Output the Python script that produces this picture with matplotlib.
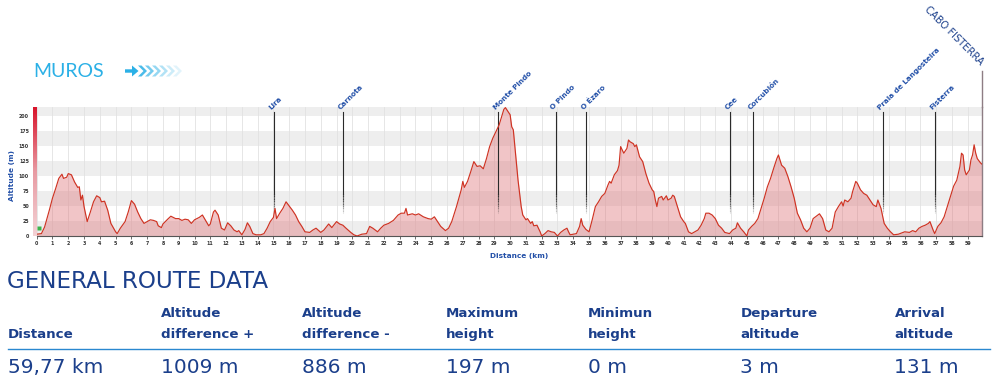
import matplotlib
matplotlib.use("Agg")
import matplotlib.pyplot as plt
import numpy as np
from matplotlib.patches import Polygon
from matplotlib.colors import LinearSegmentedColormap

# ---------------- data ----------------
km = [0, 0.3, 0.5, 0.8, 1.0, 1.2, 1.4, 1.6, 1.7, 1.9,
      2.0, 2.2, 2.4, 2.6, 2.7, 2.8, 2.9, 3.0, 3.2, 3.4,
      3.6, 3.8, 4.0, 4.1, 4.3, 4.5, 4.7, 5.0, 5.1, 5.3,
      5.6, 5.8, 6.0, 6.2, 6.4, 6.6, 6.8, 7.0, 7.2, 7.4,
      7.6, 7.7, 7.9, 8.0, 8.3, 8.5, 8.8, 9.0, 9.2, 9.4,
      9.6, 9.8, 10.0, 10.3, 10.5, 10.7, 10.9, 11.0, 11.2, 11.3,
      11.5, 11.7, 11.9, 12.1, 12.3, 12.5, 12.7, 12.8, 13.0, 13.2,
      13.35, 13.5, 13.7, 13.9, 14.2, 14.4, 14.6, 14.8,
      15.0, 15.1, 15.2, 15.4, 15.6, 15.8, 16.0, 16.2, 16.4, 16.6,
      16.8, 17.0, 17.3, 17.5, 17.7, 18.0, 18.2, 18.5, 18.7, 19.0,
      19.2, 19.4, 19.6, 19.9, 20.1, 20.3, 20.6, 20.9, 21.1, 21.3,
      21.6, 21.8, 22.0, 22.3, 22.6, 22.9, 23.1, 23.3, 23.4, 23.5,
      23.8, 24.0, 24.2, 24.5, 24.8, 25.0, 25.2, 25.4, 25.6, 25.9,
      26.1, 26.3, 26.6, 26.9, 27.0, 27.1, 27.3, 27.5, 27.7, 27.9,
      28.1, 28.3, 28.5, 28.7, 28.9, 29.1, 29.3, 29.5, 29.6, 29.7,
      29.8, 29.9,
      30.0, 30.1, 30.2, 30.3, 30.5, 30.7, 30.8, 31.0, 31.1, 31.3,
      31.4, 31.5, 31.7, 31.9, 32.0, 32.2, 32.4, 32.6, 32.8, 33.0,
      33.2, 33.4, 33.6, 33.7, 33.8, 34.0, 34.2, 34.4, 34.5, 34.6,
      34.8, 35.0, 35.2, 35.4, 35.6, 35.8, 36.0, 36.2, 36.3, 36.4,
      36.6, 36.8, 36.9, 37.0, 37.2, 37.4, 37.5, 37.6, 37.8, 37.9,
      38.0, 38.2, 38.4, 38.6, 38.8, 39.0, 39.1, 39.2, 39.3, 39.4,
      39.6, 39.7, 39.9, 40.0, 40.2, 40.3, 40.4, 40.6, 40.8, 41.0,
      41.1, 41.3, 41.5, 41.7, 41.9, 42.1, 42.3, 42.4, 42.6, 42.8,
      43.0, 43.2, 43.4, 43.6, 43.9, 44.1, 44.3, 44.4, 44.6, 44.8,
      45.0,
      45.1, 45.3, 45.5, 45.7, 45.9, 46.1, 46.3, 46.5, 46.7, 46.9,
      47.0, 47.2, 47.4, 47.6, 47.8, 48.0, 48.2, 48.4, 48.6, 48.8,
      49.0, 49.2, 49.4, 49.6, 49.8, 50.0, 50.2, 50.4, 50.6, 50.8,
      51.0, 51.1, 51.2, 51.4, 51.6, 51.7, 51.9, 52.0, 52.2, 52.4,
      52.6, 52.8, 53.0, 53.2, 53.3, 53.5, 53.7, 53.9, 54.1, 54.3,
      54.6, 55.0, 55.3, 55.5, 55.7, 55.9, 56.1, 56.3, 56.5, 56.6,
      56.8, 56.9, 57.1, 57.3, 57.5, 57.7, 57.9, 58.1, 58.3, 58.5,
      58.6, 58.7, 58.8, 58.9, 59.1, 59.2, 59.3, 59.4, 59.5, 59.6,
      59.8, 59.88]

altitude = [3, 4, 15, 43, 63, 79, 96, 103, 96, 98,
            104, 102, 90, 81, 82, 60, 68, 49, 24, 40,
            57, 67, 64, 57, 58, 43, 21, 7, 4, 13,
            24, 40, 59, 53, 40, 29, 21, 24, 27, 26,
            24, 17, 14, 20, 28, 33, 29, 29, 26, 28,
            27, 21, 27, 31, 35, 26, 17, 20, 40, 43,
            35, 13, 10, 22, 17, 10, 7, 9, 2, 11,
            22, 16, 4, 2, 2, 4, 13, 24,
            31, 46, 29, 38, 46, 57, 50, 43, 35, 24,
            16, 7, 6, 10, 13, 6, 10, 20, 14, 24,
            20, 18, 13, 6, 2, 0, 3, 4, 16, 13,
            7, 13, 18, 21, 26, 35, 38, 38, 46, 35,
            37, 35, 37, 32, 29, 28, 32, 24, 16, 9,
            13, 24, 49, 77, 91, 81, 91, 107, 124, 116,
            117, 112, 129, 149, 163, 174, 185, 202, 211, 214,
            210, 206,
            202, 182, 177, 149, 93, 49, 35, 27, 29, 21,
            24, 17, 18, 7, 0, 4, 9, 7, 6, 0,
            6, 10, 13, 7, 2, 3, 4, 16, 29, 18,
            11, 7, 27, 49, 57, 66, 71, 85, 91, 88,
            102, 109, 118, 149, 138, 146, 160, 157, 154, 149,
            152, 132, 124, 104, 88, 77, 74, 60, 49, 63,
            66, 60, 67, 60, 63, 68, 66, 49, 32, 24,
            21, 7, 4, 7, 10, 18, 29, 38, 38, 35,
            29, 18, 13, 6, 4, 10, 13, 22, 13, 7,
            0,
            10, 16, 21, 29, 46, 63, 82, 96, 113, 129,
            135, 118, 113, 99, 82, 63, 38, 27, 13, 7,
            13, 29, 33, 37, 29, 10, 7, 13, 40, 49,
            57, 50, 60, 57, 63, 74, 91, 88, 77, 71,
            68, 60, 52, 49, 60, 46, 21, 13, 7, 2,
            3, 7, 6, 9, 7, 13, 16, 18, 21, 24,
            10, 4, 16, 22, 32, 49, 66, 83, 93, 116,
            138, 135, 110, 102, 110, 127, 135, 152, 138, 129,
            122, 120]

waypoint_names = ["Lira", "Carnota", "Monte Pindo", "O Pindo", "O Ézaro",
                  "Cee", "Corcubión", "Praia de Langosteira", "Fisterra"]
waypoint_km = [15.05, 19.43, 29.25, 32.9, 34.83, 43.95, 45.4, 53.6, 56.9]

start_name = "MUROS"
end_name = "CABO FISTERRA"
end_km = 59.88

y_ticks = [0, 25, 50, 75, 100, 125, 150, 175, 200]
x_ticks = list(range(0, 60))

stat_headers = [("", "Distance"), ("Altitude", "difference +"), ("Altitude", "difference -"),
                ("Maximum", "height"), ("Minimun", "height"), ("Departure", "altitude"),
                ("Arrival", "altitude")]
stat_values = ["59,77 km", "1009 m", "886 m", "197 m", "0 m", "3 m", "131 m"]

assert len(km) == len(altitude)

# ---------------- layout ----------------
W, H = 992, 384
fig = plt.figure(figsize=(W / 100, H / 100), dpi=100)
fig.patch.set_facecolor("white")

def fx(px):
    return px / W

def fy(py):
    return 1 - py / H

DARK_BLUE = "#1b3f8b"
MID_BLUE = "#2350a8"
LIGHT_BLUE = "#2bb0e6"

ax_l, ax_r, ax_t, ax_b = 36.7, 981.7, 106.7, 236.0
ax = fig.add_axes([fx(ax_l), fy(ax_b), fx(ax_r - ax_l), (ax_b - ax_t) / H])
ax.set_xlim(0, end_km)
ax.set_ylim(0, 215.5)

for lo, hi in [(0, 25), (50, 75), (100, 125), (150, 175), (200, 215.5)]:
    ax.axhspan(lo, hi, color="#eeeeee", lw=0, zorder=0)
for k in x_ticks:
    ax.axvline(k, color="#e2e2e2", lw=0.6, zorder=0.5)

ax.fill_between(km, altitude, 0, color="#de6f74", alpha=0.40, lw=0, zorder=1)
ax.plot(km, altitude, color="#cf3323", lw=0.85, zorder=4)

# start marker
ax.plot([0.12], [13], marker="s", ms=3.2, color="#3cb44b", mec="none", zorder=5, clip_on=False)

# waypoints
for name, k in zip(waypoint_names, waypoint_km):
    ax.plot([k, k], [207, 70], color="#2a2a2a", lw=0.8, zorder=3)
    n = 8
    ys = np.linspace(70, 38, n + 1)
    for i in range(n):
        ax.plot([k, k], [ys[i], ys[i + 1]], color="#2a2a2a", lw=0.8,
                alpha=0.8 * (1 - i / n), zorder=3)
    ax.text(k - 0.12, 209, name, rotation=45, rotation_mode="anchor",
            ha="left", va="bottom", fontsize=5.2, color=MID_BLUE, fontweight="bold",
            zorder=6, clip_on=False)

# axes styling
for s in ["top", "left"]:
    ax.spines[s].set_visible(False)
ax.spines["right"].set_color("#8e7d84")
ax.spines["right"].set_linewidth(1.0)
ax.spines["bottom"].set_color("#555555")
ax.spines["bottom"].set_linewidth(0.8)
ax.set_xticks(x_ticks)
ax.set_xticklabels([str(t) for t in x_ticks], fontsize=3.4, fontweight="bold")
ax.set_yticks(y_ticks)
ax.set_yticklabels([str(t) for t in y_ticks], fontsize=3.4, fontweight="bold")
ax.tick_params(axis="x", length=2, width=0.5, pad=1.5, colors="#333333")
ax.tick_params(axis="y", length=0, pad=5.5, colors="#333333")

# red gradient bar on the left
bar = fig.add_axes([fx(32.6), fy(ax_b), fx(3.8), (ax_b - ax_t) / H])
cmap = LinearSegmentedColormap.from_list("rb", ["#f3d2d5", "#e89aa2", "#d8132a"])
bar.imshow(np.linspace(0, 1, 100)[::-1].reshape(-1, 1), aspect="auto", cmap=cmap,
           extent=[0, 1, 0, 1])
bar.axis("off")

fig.text(fx(12.5), fy(176), "Altitude (m)", rotation=90, ha="center", va="center",
         fontsize=5.3, fontweight="bold", color=MID_BLUE)
fig.text(fx(519), fy(256), "Distance (km)", ha="center", va="center",
         fontsize=5.3, fontweight="bold", color=MID_BLUE)

# end point
fig.add_artist(plt.Line2D([fx(ax_r), fx(ax_r)], [fy(70.7), fy(ax_t)], color="#8e7d84", lw=1.0))
fig.text(fx(978), fy(67), end_name, rotation=-45, rotation_mode="anchor",
         ha="right", va="bottom", fontsize=7.2, color=DARK_BLUE)

# start label
fig.text(fx(33), fy(77), start_name, ha="left", va="baseline", fontsize=14,
         family="Lato", color=LIGHT_BLUE)

def pix_poly(pts, **kw):
    p = Polygon([(fx(x), fy(y)) for x, y in pts], closed=True,
                transform=fig.transFigure, **kw)
    fig.add_artist(p)

pix_poly([(125, 69.3), (132, 69.3), (132, 65.5), (138.5, 71), (132, 76.5), (132, 72.7), (125, 72.7)],
         color=LIGHT_BLUE, lw=0)
alphas = [0.85, 0.65, 0.5, 0.36, 0.24, 0.14]
for i, a in enumerate(alphas):
    x0 = 138 + i * 7
    pix_poly([(x0, 65.5), (x0 + 3.5, 65.5), (x0 + 9, 71), (x0 + 3.5, 76.5), (x0, 76.5), (x0 + 5.5, 71)],
             color=LIGHT_BLUE, alpha=a, lw=0)

# general route data
fig.text(fx(7), fy(288.5), "GENERAL ROUTE DATA", ha="left", va="baseline",
         fontsize=16.6, color=DARK_BLUE)
col_x = [8, 161, 301.5, 446, 587.5, 740.5, 894.5]
for x, (h1, h2), v in zip(col_x, stat_headers, stat_values):
    if h1:
        fig.text(fx(x), fy(316.7), h1, ha="left", va="baseline", fontsize=9.6,
                 fontweight="bold", color=DARK_BLUE)
    fig.text(fx(x), fy(338.3), h2, ha="left", va="baseline", fontsize=9.6,
             fontweight="bold", color=DARK_BLUE)
    fig.text(fx(x), fy(373.3), v, ha="left", va="baseline", fontsize=14.5,
             color=DARK_BLUE)
fig.add_artist(plt.Line2D([fx(8), fx(990)], [fy(349.3), fy(349.3)], color="#2a88d0", lw=1.0))

fig.savefig("out.png", dpi=100, facecolor="white")
